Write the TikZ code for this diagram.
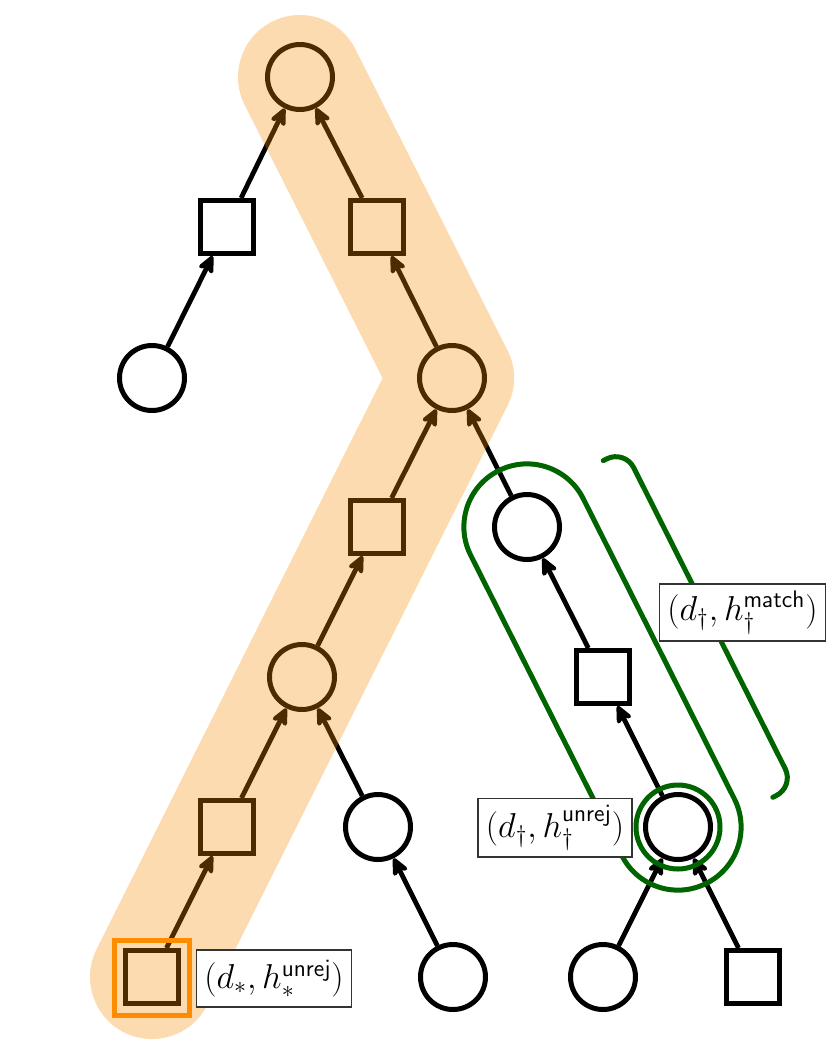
\documentclass[tikz,border=0pt]{standalone}
\usetikzlibrary{arrows.meta}
\definecolor{dgreen}{RGB}{0,100,0}
\definecolor{bandor}{rgb}{0.97,0.55,0}
\definecolor{boxor}{RGB}{255,140,0}
\begin{document}
\begin{tikzpicture}[x=0.5pt,y=-0.5pt,
  cnode/.style={circle,draw=black,fill=white,line width=2.5pt,minimum size=32.5pt,inner sep=0pt},
  snode/.style={rectangle,draw=black,fill=white,line width=2.5pt,minimum size=26.5pt,inner sep=0pt},
  edge/.style={line width=2.4pt,-{Stealth[length=11pt,width=10pt,inset=3pt,round]}},
  lab/.style={draw=black!80,fill=white,line width=0.6pt,font=\fontsize{18}{21}\selectfont,inner xsep=4pt,minimum height=28.5pt},
  grn/.style={draw=dgreen,line width=2.5pt}]
\useasboundingbox (0,0) rectangle (830,1056);
% nodes
\node[cnode] (T)  at (300,77) {};
\node[snode] (S1) at (227,227) {};
\node[snode] (S2) at (377,227) {};
\node[cnode] (C1) at (152,378) {};
\node[cnode] (M)  at (452,378) {};
\node[snode] (S3) at (377,527) {};
\node[cnode] (G)  at (527,527) {};
\node[cnode] (C2) at (302,677) {};
\node[snode] (S4) at (603,677) {};
\node[snode] (S5) at (227,827) {};
\node[cnode] (C3) at (378,827) {};
\node[cnode] (D)  at (678,827) {};
\node[snode] (S6) at (152,977) {};
\node[cnode] (C4) at (453,977) {};
\node[cnode] (C5) at (603,977) {};
\node[snode] (S7) at (753,977) {};
% edges
\draw[edge] (S1) -- (T);
\draw[edge] (S2) -- (T);
\draw[edge] (C1) -- (S1);
\draw[edge] (M) -- (S2);
\draw[edge] (S3) -- (M);
\draw[edge] (G) -- (M);
\draw[edge] (C2) -- (S3);
\draw[edge] (S4) -- (G);
\draw[edge] (S5) -- (C2);
\draw[edge] (C3) -- (C2);
\draw[edge] (D) -- (S4);
\draw[edge] (S6) -- (S5);
\draw[edge] (C4) -- (C3);
\draw[edge] (C5) -- (D);
\draw[edge] (S7) -- (D);
% highlighted band
\draw[bandor,opacity=0.31,line width=62pt,line cap=round,line join=round] (S6.center) -- (M.center) -- (T.center);
% orange box
\node[draw=boxor,line width=2.5pt,minimum size=37.5pt,inner sep=0pt] (hl) at (152,978) {};
% green shapes
\node[grn,rectangle,rounded corners=31.4pt,minimum width=231pt,minimum height=63pt,inner sep=0pt,rotate=-63.28] (stad) at (602.5,677) {};
\node[grn,circle,minimum size=42pt,inner sep=0pt] (ring) at (D) {};
\draw[grn,line cap=round,rounded corners=10pt] (603.3,460.6) -- (624.7,449.8) -- (794.2,786.6) -- (772.8,797.3);
% labels
\node[lab] (Lstar) at (274,978.5) {$(d_*, h_*^{\mathsf{unrej}})$};
\node[lab] (Ldag) at (555,827.5) {$(d_\dagger, h_\dagger^{\mathsf{unrej}})$};
\node[lab] (Lmatch) at (742.5,612.5) {$(d_\dagger, h_\dagger^{\mathsf{match}})$};
\end{tikzpicture}
\end{document}
